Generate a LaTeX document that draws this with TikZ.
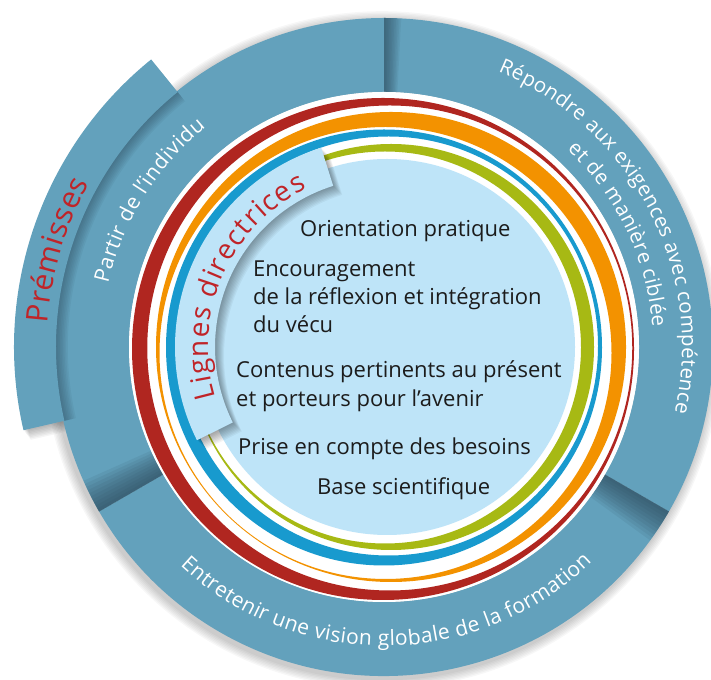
\documentclass[tikz,border=0pt]{standalone}
\usepackage{fontspec}
\setmainfont{Open Sans}
\usetikzlibrary{decorations.text,calc}
\definecolor{ringblue}{RGB}{99,161,188}
\definecolor{ringdark}{RGB}{40,66,82}
\definecolor{cred}{RGB}{176,38,32}
\definecolor{corange}{RGB}{243,146,0}
\definecolor{cblue}{RGB}{24,154,206}
\definecolor{cgreen}{RGB}{167,185,20}
\definecolor{clight}{RGB}{190,228,248}
\definecolor{tred}{RGB}{192,36,40}
\definecolor{tblack}{RGB}{28,28,28}
\tikzset{
  annsec/.style n args={5}{insert path={($(#1)+({#2}:#5)$) arc[start angle={#2}, end angle={#3}, radius=#5] -- ($(#1)+({#3}:#4)$) arc[start angle={#3}, end angle={#2}, radius=#4] -- cycle}},
  innertext/.style={anchor=base west, text=tblack, font=\fontsize{22}{26}\selectfont, inner sep=0pt},
  arctext/.style n args={2}{decorate, decoration={text along path, text align={fit to path}, text color=#1, text={#2}}},
}
\begin{document}
\begin{tikzpicture}[x=1pt,y=1pt]
\useasboundingbox (0,0) rectangle (711,679);
\coordinate (C) at (384,332);
% soft halo
\foreach \i in {1,...,7}{
  \fill[black, opacity=0.03] ($(C)+(-2,-3)$) circle[radius={329pt+\i*1.4pt}];
}
% tab drop shadow
\foreach \i in {1,...,8}{
  \coordinate (Cs) at ($(C)+(\i*0.9,-\i*1.2)$);
  \fill[black, opacity=0.04, annsec={Cs}{129}{193}{330pt}{370pt}];
}
% outer ring segments
\fill[ringblue, annsec={C}{90}{-30}{255pt}{329pt}];
\fill[ringblue, annsec={C}{-30}{-150}{255pt}{329pt}];
\fill[ringblue, annsec={C}{210}{90}{255pt}{329pt}];
% divider shadows
\foreach \k in {1,...,10}{
  \fill[ringdark, opacity=0.08, annsec={C}{90}{90-\k*0.3}{255pt}{329pt}];
  \fill[ringdark, opacity=0.09, annsec={C}{-30}{-30-\k*0.6}{255pt}{329pt}];
  \fill[ringdark, opacity=0.09, annsec={C}{210}{210-\k*0.6}{255pt}{329pt}];
}
% shadow of tab on ring
\foreach \k in {1,...,8}{
  \pgfmathsetmacro\rr{329-\k*1.6}
  \fill[ringdark, opacity=0.07, annsec={C}{129}{193}{\rr pt}{329pt}];
}
% Premisses tab
\fill[ringblue, annsec={C}{129}{193}{328pt}{370pt}];
% white interior
\fill[white] (C) circle[radius=255pt];
% coloured crescents
\fill[cred, even odd rule] (383,330) circle[radius=251pt] (389.75,331) circle[radius=242.5pt];
\fill[corange, even odd rule] (391,332) circle[radius=235pt] (385.5,326) circle[radius=226pt];
\fill[cblue, even odd rule] (384,331.5) circle[radius=218pt] (388.5,333) circle[radius=209.5pt];
\fill[cgreen, even odd rule] (391,332) circle[radius=203pt] (385,331.5) circle[radius=196pt];
% light disc
\fill[clight] (387,332) circle[radius=188pt];
% Lignes directrices band with shadow
\foreach \i in {1,...,9}{
  \coordinate (Cb) at ($(C)+(\i*1.0,-\i*1.0)$);
  \fill[black, opacity=0.045, annsec={Cb}{206.5}{107.5}{169pt}{209pt}];
}
\fill[clight, annsec={C}{206.5}{107.5}{169pt}{209pt}];
% curved texts
\path[arctext={tred}{|\fontsize{28}{28}\selectfont|Lignes directrices}] ($(C)+(196.6:176pt)$) arc[start angle=196.6, end angle=116, radius=176pt];
\path[arctext={tred}{|\fontsize{30}{30}\selectfont|Prémisses}] ($(C)+(176:337pt)$) arc[start angle=176, end angle=151, radius=337pt];
\path[arctext={white}{|\fontsize{21}{21}\selectfont|Partir de l’individu}] ($(C)+(167:283pt)$) arc[start angle=167, end angle=129, radius=283pt];
\path[arctext={white}{|\fontsize{20.5}{20.5}\selectfont|Répondre aux exigences avec compétence}] ($(C)+(67.5:298pt)$) arc[start angle=67.5, end angle=-12.7, radius=298pt];
\path[arctext={white}{|\fontsize{20.5}{20.5}\selectfont|et de manière ciblée}] ($(C)+(47.1:269pt)$) arc[start angle=47.1, end angle=4.2, radius=269pt];
\path[arctext={white}{|\fontsize{21}{21}\selectfont|Entretenir une vision globale de la formation}] ($(C)+(-133:299pt)$) arc[start angle=-133, end angle=-46, radius=299pt];
% inner texts
\node[innertext] (o1) at (300,442) {Orientation pratique};
\node[innertext] (e1) at (253,402) {Encouragement};
\node[innertext] (e2) at (253,374) {de la réflexion et intégration};
\node[innertext] (e3) at (253,346) {du vécu};
\node[innertext] (c1) at (236,301) {Contenus pertinents au présent};
\node[innertext] (c2) at (236,272) {et porteurs pour l’avenir};
\node[innertext] (p1) at (238,224) {Prise en compte des besoins};
\node[innertext] (b1) at (317,184) {Base scientifique};
\end{tikzpicture}
\end{document}
